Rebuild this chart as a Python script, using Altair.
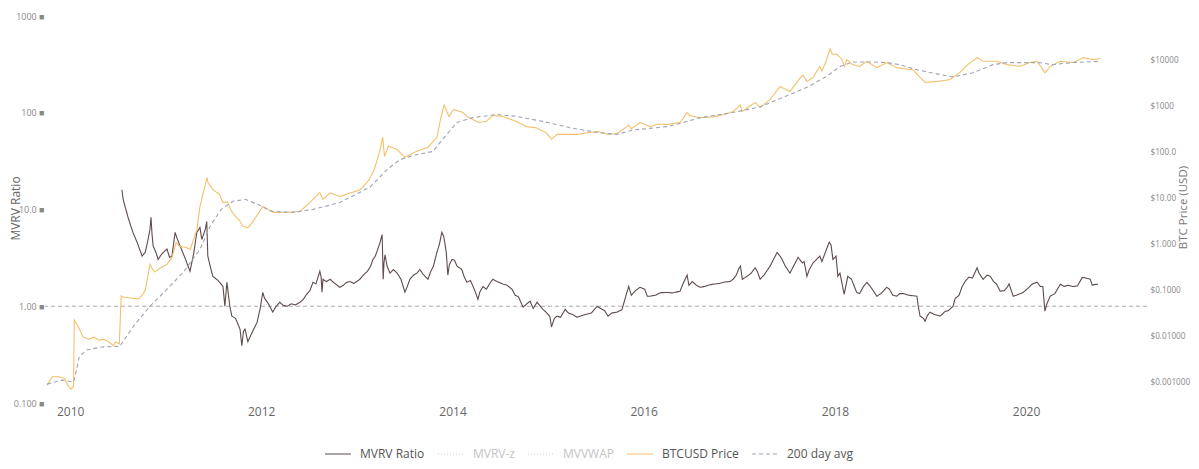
import altair as alt
import pandas as pd

# ---------------- data ----------------
mvrv_dates = [
    "2010-07-18", "2010-07-22", "2010-07-30", "2010-08-12", "2010-08-29", "2010-09-15",
    "2010-10-03", "2010-10-15", "2010-10-25", "2010-11-02", "2010-11-06", "2010-11-10",
    "2010-11-14", "2010-11-25", "2010-12-03", "2010-12-18", "2011-01-06", "2011-01-16",
    "2011-01-25", "2011-02-06", "2011-02-14", "2011-02-25", "2011-03-15", "2011-04-04",
    "2011-04-18", "2011-04-30", "2011-05-12", "2011-05-19", "2011-06-01", "2011-06-07",
    "2011-06-11", "2011-06-20", "2011-06-30", "2011-07-20", "2011-08-08", "2011-08-15",
    "2011-08-23", "2011-09-03", "2011-09-11", "2011-09-25", "2011-10-12", "2011-10-19",
    "2011-10-25", "2011-10-31", "2011-11-11", "2011-11-25", "2011-12-16", "2011-12-28",
    "2012-01-07", "2012-01-14", "2012-01-20", "2012-02-01", "2012-02-14", "2012-02-25",
    "2012-03-12", "2012-03-25", "2012-04-10", "2012-04-25", "2012-05-10", "2012-05-28",
    "2012-06-10", "2012-06-20", "2012-07-05", "2012-07-17", "2012-07-28", "2012-08-12",
    "2012-08-17", "2012-08-20", "2012-08-24", "2012-09-05", "2012-09-20", "2012-10-05",
    "2012-10-27", "2012-11-10", "2012-11-20", "2012-12-05", "2012-12-20", "2013-01-12",
    "2013-01-25", "2013-02-10", "2013-02-22", "2013-03-03", "2013-03-12", "2013-03-20",
    "2013-03-28", "2013-04-07", "2013-04-11", "2013-04-14", "2013-04-18", "2013-04-26",
    "2013-05-07", "2013-05-20", "2013-06-03", "2013-06-18", "2013-07-03", "2013-07-12",
    "2013-07-22", "2013-08-05", "2013-08-18", "2013-08-29", "2013-09-10", "2013-09-29",
    "2013-10-10", "2013-10-20", "2013-11-02", "2013-11-12", "2013-11-21", "2013-11-28",
    "2013-12-03", "2013-12-08", "2013-12-14", "2013-12-20", "2013-12-30", "2014-01-08",
    "2014-01-18", "2014-02-05", "2014-02-15", "2014-02-25", "2014-03-10", "2014-03-25",
    "2014-04-08", "2014-04-15", "2014-04-27", "2014-05-10", "2014-05-25", "2014-06-04",
    "2014-06-20", "2014-07-12", "2014-07-28", "2014-08-16", "2014-08-28", "2014-09-10",
    "2014-09-27", "2014-10-10", "2014-10-24", "2014-11-05", "2014-11-20", "2014-12-12",
    "2014-12-28", "2015-01-08", "2015-01-14", "2015-01-25", "2015-02-04", "2015-02-18",
    "2015-03-07", "2015-03-20", "2015-04-05", "2015-04-22", "2015-05-10", "2015-05-30",
    "2015-06-15", "2015-07-07", "2015-07-20", "2015-08-05", "2015-08-18", "2015-09-01",
    "2015-09-21", "2015-10-10", "2015-10-29", "2015-11-05", "2015-11-15", "2015-12-01",
    "2015-12-18", "2016-01-05", "2016-01-15", "2016-01-25", "2016-02-15", "2016-03-05",
    "2016-03-31", "2016-04-20", "2016-05-19", "2016-05-30", "2016-06-15", "2016-06-22",
    "2016-07-05", "2016-07-20", "2016-08-04", "2016-08-20", "2016-09-05", "2016-09-22",
    "2016-10-15", "2016-11-05", "2016-11-25", "2016-12-08", "2016-12-20", "2016-12-31",
    "2017-01-05", "2017-01-12", "2017-01-30", "2017-02-15", "2017-03-02", "2017-03-10",
    "2017-03-21", "2017-04-05", "2017-04-28", "2017-05-10", "2017-05-25", "2017-06-05",
    "2017-06-13", "2017-06-25", "2017-07-13", "2017-07-20", "2017-08-05", "2017-08-13",
    "2017-08-30", "2017-09-05", "2017-09-16", "2017-09-25", "2017-10-09", "2017-10-20",
    "2017-11-04", "2017-11-12", "2017-11-25", "2017-12-10", "2017-12-17", "2017-12-24",
    "2018-01-05", "2018-01-12", "2018-01-20", "2018-02-05", "2018-02-19", "2018-03-05",
    "2018-03-25", "2018-04-05", "2018-04-20", "2018-05-03", "2018-05-20", "2018-06-10",
    "2018-06-25", "2018-07-18", "2018-07-28", "2018-08-10", "2018-08-25", "2018-09-05",
    "2018-09-20", "2018-10-10", "2018-11-10", "2018-11-15", "2018-11-22", "2018-12-05",
    "2018-12-11", "2018-12-20", "2018-12-30", "2019-01-15", "2019-02-07", "2019-02-25",
    "2019-03-10", "2019-03-28", "2019-04-05", "2019-04-20", "2019-05-02", "2019-05-13",
    "2019-05-28", "2019-06-10", "2019-06-28", "2019-07-05", "2019-07-21", "2019-08-05",
    "2019-08-17", "2019-08-30", "2019-09-10", "2019-09-24", "2019-10-10", "2019-10-21",
    "2019-10-28", "2019-11-13", "2019-11-25", "2019-12-21", "2020-01-10", "2020-01-25",
    "2020-02-12", "2020-02-25", "2020-03-05", "2020-03-13", "2020-03-20", "2020-04-02",
    "2020-04-20", "2020-05-11", "2020-05-25", "2020-06-10", "2020-06-29", "2020-07-15",
    "2020-08-03", "2020-08-20", "2020-09-02", "2020-09-10", "2020-09-20", "2020-10-02",
]
mvrv_values = [
    16.0, 13.0, 10.7, 8.0, 5.8, 4.5,
    3.3, 3.6, 4.8, 6.2, 8.3, 5.5,
    4.2, 3.6, 3.05, 3.5, 3.9, 3.2,
    3.3, 5.8, 5.0, 4.2, 3.2, 2.3,
    3.5, 5.8, 6.5, 4.9, 6.2, 7.5,
    3.3, 2.6, 2.04, 1.85, 1.6, 1.0,
    1.77, 1.0, 0.79, 0.75, 0.58, 0.39,
    0.55, 0.58, 0.43, 0.52, 0.68, 0.95,
    1.39, 1.2, 1.15, 1.02, 0.87, 0.98,
    1.1, 1.02, 1.0, 1.06, 1.03, 1.1,
    1.18, 1.3, 1.45, 1.77, 1.7, 2.3,
    2.0, 1.4, 1.9, 1.8, 1.9, 1.75,
    1.57, 1.65, 1.75, 1.8, 1.72, 1.9,
    2.1, 2.3, 2.6, 3.05, 3.3, 3.8,
    4.4, 5.5, 1.9, 2.8, 3.4, 2.6,
    2.2, 2.4, 2.2, 1.9, 1.4, 1.6,
    1.9, 2.1, 2.2, 2.4, 2.15, 1.9,
    2.3, 2.6, 3.6, 4.4, 5.8, 5.3,
    4.4, 3.6, 2.1, 2.7, 3.05, 3.0,
    2.6, 2.4, 2.0, 1.77, 1.85, 1.5,
    1.18, 1.4, 1.6, 1.5, 1.75, 1.9,
    1.8, 1.7, 1.65, 1.5, 1.3, 1.25,
    0.98, 1.05, 1.13, 0.95, 1.1, 0.93,
    0.85, 0.78, 0.61, 0.75, 0.79, 0.77,
    0.93, 0.85, 0.82, 0.77, 0.80, 0.83,
    0.85, 1.0, 0.95, 0.9, 0.79, 0.85,
    0.87, 0.92, 1.39, 1.6, 1.3, 1.45,
    1.57, 1.5, 1.27, 1.27, 1.3, 1.38,
    1.39, 1.37, 1.43, 1.7, 2.1, 1.65,
    1.8, 1.65, 1.57, 1.6, 1.65, 1.69,
    1.72, 1.78, 1.8, 1.9, 2.1, 2.5,
    2.6, 1.9, 2.04, 2.2, 2.5, 2.3,
    1.9, 2.1, 2.6, 3.0, 3.6, 3.3,
    3.05, 2.6, 2.2, 2.4, 2.9, 3.2,
    2.8, 2.9, 2.04, 2.4, 2.8, 3.0,
    3.3, 2.9, 3.6, 4.6, 4.3, 3.05,
    3.3, 2.04, 2.2, 1.33, 2.04, 1.9,
    1.39, 1.35, 1.6, 1.77, 1.55, 1.27,
    1.35, 1.57, 1.5, 1.3, 1.27, 1.35,
    1.35, 1.3, 1.27, 1.0, 0.79, 0.75,
    0.70, 0.80, 0.87, 0.82, 0.79, 0.88,
    0.9, 1.0, 1.2, 1.3, 1.6, 1.8,
    2.0, 1.95, 2.5, 2.2, 1.9, 2.1,
    2.04, 1.8, 1.7, 1.43, 1.45, 1.57,
    1.7, 1.27, 1.3, 1.39, 1.55, 1.7,
    1.77, 1.6, 1.6, 0.89, 1.05, 1.27,
    1.35, 1.69, 1.6, 1.65, 1.6, 1.62,
    1.99, 1.95, 1.9, 1.65, 1.68, 1.69,
]

price_dates = [
    "2009-10-05", "2009-10-25", "2009-11-20", "2009-12-10", "2009-12-25", "2010-01-05",
    "2010-01-14", "2010-01-17", "2010-02-01", "2010-02-20", "2010-03-15", "2010-04-01",
    "2010-04-20", "2010-05-10", "2010-05-30", "2010-06-15", "2010-06-25", "2010-07-08",
    "2010-07-15", "2010-07-25", "2010-08-20", "2010-09-20", "2010-10-05", "2010-10-15",
    "2010-11-02", "2010-11-10", "2010-11-20", "2010-12-01", "2011-01-06", "2011-01-25",
    "2011-02-10", "2011-02-25", "2011-03-20", "2011-04-05", "2011-04-30", "2011-05-12",
    "2011-05-25", "2011-06-08", "2011-06-12", "2011-06-30", "2011-07-25", "2011-08-08",
    "2011-08-25", "2011-09-10", "2011-10-12", "2011-10-22", "2011-11-11", "2011-11-28",
    "2012-01-07", "2012-02-14", "2012-03-30", "2012-05-28", "2012-07-05", "2012-08-12",
    "2012-08-24", "2012-09-20", "2012-10-27", "2012-12-05", "2013-01-12", "2013-02-15",
    "2013-03-08", "2013-03-30", "2013-04-09", "2013-04-16", "2013-05-01", "2013-06-03",
    "2013-07-03", "2013-08-15", "2013-09-29", "2013-11-02", "2013-11-18", "2013-11-30",
    "2013-12-18", "2014-01-05", "2014-02-10", "2014-02-25", "2014-04-10", "2014-05-10",
    "2014-06-04", "2014-07-12", "2014-09-01", "2014-10-10", "2014-11-15", "2014-12-24",
    "2015-01-14", "2015-02-04", "2015-03-10", "2015-04-22", "2015-06-08", "2015-07-10",
    "2015-08-18", "2015-09-21", "2015-10-29", "2015-11-05", "2015-11-15", "2015-12-18",
    "2016-01-25", "2016-02-25", "2016-03-31", "2016-05-19", "2016-06-15", "2016-06-25",
    "2016-08-04", "2016-09-22", "2016-11-15", "2016-12-08", "2016-12-28", "2017-01-04",
    "2017-01-11", "2017-03-02", "2017-03-21", "2017-04-28", "2017-05-25", "2017-06-05",
    "2017-07-13", "2017-08-20", "2017-09-01", "2017-09-16", "2017-10-09", "2017-11-04",
    "2017-11-12", "2017-11-28", "2017-12-13", "2017-12-22", "2018-01-08", "2018-01-27",
    "2018-02-06", "2018-02-15", "2018-03-10", "2018-04-05", "2018-05-03", "2018-06-10",
    "2018-07-18", "2018-08-25", "2018-10-26", "2018-11-22", "2018-12-11", "2019-01-25",
    "2019-03-15", "2019-04-22", "2019-05-23", "2019-06-28", "2019-07-21", "2019-09-11",
    "2019-10-21", "2019-12-08", "2020-01-15", "2020-02-12", "2020-03-13", "2020-04-02",
    "2020-05-11", "2020-06-29", "2020-08-07", "2020-09-15", "2020-10-09",
]
price_values = [
    0.00085, 0.0013, 0.0013, 0.0012, 0.00081, 0.0007,
    0.0008, 0.0225, 0.016, 0.0096, 0.0085, 0.0095,
    0.0082, 0.0085, 0.0074, 0.0062, 0.0075, 0.0068,
    0.075, 0.07, 0.068, 0.065, 0.08, 0.1,
    0.37, 0.30, 0.25, 0.28, 0.37, 0.52,
    1.1, 0.9, 0.86, 0.78, 2.1, 6.7,
    13.6, 28.8, 22.0, 15.8, 12.3, 8.2,
    8.5, 5.2, 3.2, 2.5, 2.3, 3.0,
    6.7, 5.0, 5.0, 5.2, 8.2, 13.6,
    9.6, 13.2, 11.1, 13.2, 15.3, 25.0,
    43.0, 114.0, 218.0, 83.0, 140.0, 117.0,
    79.0, 106.0, 130.0, 215.0, 600.0, 1090.0,
    616.0, 870.0, 750.0, 616.0, 455.0, 480.0,
    650.0, 616.0, 480.0, 370.0, 350.0, 275.0,
    195.0, 250.0, 250.0, 250.0, 275.0, 290.0,
    250.0, 260.0, 370.0, 400.0, 330.0, 455.0,
    370.0, 420.0, 410.0, 455.0, 750.0, 640.0,
    580.0, 600.0, 710.0, 790.0, 1000.0, 1100.0,
    790.0, 1240.0, 970.0, 1440.0, 2300.0, 2770.0,
    2150.0, 4200.0, 4900.0, 3550.0, 4350.0, 7600.0,
    6000.0, 9800.0, 18600.0, 14000.0, 13900.0, 11000.0,
    7500.0, 10700.0, 8300.0, 7600.0, 9800.0, 7100.0,
    9200.0, 7100.0, 6400.0, 4350.0, 3400.0, 3550.0,
    3900.0, 5500.0, 8300.0, 11800.0, 9800.0, 9800.0,
    8300.0, 7600.0, 9200.0, 9800.0, 5500.0, 7600.0,
    9800.0, 9200.0, 11800.0, 10700.0, 11200.0,
]

avg_dates = [
    "2009-10-05", "2009-12-01", "2010-01-14", "2010-01-25", "2010-02-05", "2010-03-05",
    "2010-05-01", "2010-07-10", "2010-08-29", "2010-11-02", "2011-01-06", "2011-03-10",
    "2011-05-12", "2011-06-20", "2011-08-01", "2011-09-15", "2011-11-01", "2011-12-20",
    "2012-02-14", "2012-05-01", "2012-07-17", "2012-09-20", "2012-10-27", "2012-12-05",
    "2013-02-20", "2013-04-26", "2013-06-15", "2013-08-18", "2013-10-18", "2013-11-24",
    "2014-01-18", "2014-03-18", "2014-06-19", "2014-09-03", "2014-12-12", "2015-03-26",
    "2015-07-07", "2015-09-21", "2015-11-21", "2016-03-31", "2016-05-31", "2016-08-04",
    "2016-12-08", "2017-03-21", "2017-06-16", "2017-09-16", "2017-11-30", "2018-01-20",
    "2018-03-10", "2018-05-26", "2018-07-18", "2018-09-06", "2018-11-10", "2019-01-05",
    "2019-03-28", "2019-06-12", "2019-08-28", "2019-10-21", "2020-01-05", "2020-02-20",
    "2020-04-09", "2020-06-29", "2020-10-09",
]
avg_values = [
    0.0009, 0.0011, 0.0010, 0.0018, 0.0036, 0.0050,
    0.0058, 0.0060, 0.016, 0.045, 0.105, 0.25,
    0.78, 2.5, 5.8, 8.7, 9.6, 7.4,
    5.2, 5.0, 5.8, 7.2, 8.2, 10.6,
    17.8, 43.0, 71.0, 91.0, 106.0, 195.0,
    455.0, 580.0, 680.0, 616.0, 480.0, 350.0,
    275.0, 250.0, 312.0, 370.0, 455.0, 580.0,
    750.0, 1000.0, 1600.0, 2650.0, 4600.0, 7600.0,
    9460.0, 9460.0, 9200.0, 8300.0, 6400.0, 5500.0,
    4470.0, 5500.0, 8300.0, 9200.0, 9200.0, 9200.0,
    8300.0, 9200.0, 9800.0,
]

series_names = ["MVRV Ratio", "MVRV-z", "MVVWAP", "BTCUSD Price", "200 day avg"]
series_colors = ["#5f4b4b", "#cfcfcf", "#cfcfcf", "#f3c069", "#9ba3b5"]
series_dashes = [[1, 0], [1, 2], [1, 2], [1, 0], [4, 3]]

left_ticks = [0.1, 1, 10, 100, 1000]
right_ticks = [0.001, 0.01, 0.1, 1, 10, 100, 1000, 10000, 100000]
year_ticks = [2010, 2012, 2014, 2016, 2018, 2020]

# ---------------- tables ----------------
mvrv_df = pd.DataFrame({"date": mvrv_dates, "value": mvrv_values, "series": "MVRV Ratio"})
price_df = pd.DataFrame({"date": price_dates, "value": price_values, "series": "BTCUSD Price"})
avg_df = pd.DataFrame({"date": avg_dates, "value": avg_values, "series": "200 day avg"})
right_df = pd.concat([price_df, avg_df], ignore_index=True)
one_df = pd.DataFrame({"value": [1.0]})

FONT = "Open Sans"

x_enc = alt.X(
    "date:T",
    title=None,
    scale=alt.Scale(domain=[alt.DateTime(year=2009, month=9, date=27),
                            alt.DateTime(year=2021, month=4, date=7)]),
    axis=alt.Axis(values=[alt.DateTime(year=y, month=1, date=1) for y in year_ticks],
                  format="%Y", grid=False, domain=False, ticks=False,
                  labelFont=FONT, labelFontSize=12, labelColor="#666666",
                  labelPadding=3),
)

left_scale = alt.Scale(type="log", domain=[0.1, 1000])
left_axis = alt.Axis(
    orient="left", values=left_ticks, format=".3r",
    labelExpr="datum.label + ' \u25a0'",
    grid=False, domain=False, ticks=False,
    labelFont=FONT, labelFontSize=9, labelColor="#888888", labelPadding=1,
    title="MVRV Ratio", titleFont=FONT, titleFontSize=12, titleFontWeight="normal",
    titleColor="#666666", titleAngle=270, titleX=-30, titleY=192,
    titleAlign="center", titleBaseline="middle",
)
right_scale = alt.Scale(type="log", domain=[0.000349, 95300])
right_axis = alt.Axis(
    orient="right", values=right_ticks, format="$.4r",
    grid=False, domain=False, ticks=False,
    labelFont=FONT, labelFontSize=8.2, labelColor="#888888", labelPadding=3,
    title="BTC Price (USD)", titleFont=FONT, titleFontSize=11.5, titleFontWeight="normal",
    titleColor="#777777", titleAngle=270, titleX=36, titleY=191,
    titleAlign="center", titleBaseline="middle",
)

legend = alt.Legend(
    orient="none", legendX=279, legendY=424, direction="horizontal", title=None,
    symbolType="stroke", symbolSize=676, symbolStrokeWidth=1.2,
    labelFont=FONT, labelFontSize=12, labelOffset=8, columnPadding=10, padding=0,
    labelColor=alt.ExprRef(expr="datum.label == 'MVRV-z' || datum.label == 'MVVWAP' ? '#c4c4c4' : '#555555'"),
)
color_enc = alt.Color("series:N", scale=alt.Scale(domain=series_names, range=series_colors), legend=legend)
dash_enc = alt.StrokeDash("series:N", scale=alt.Scale(domain=series_names, range=series_dashes), legend=legend)

mvrv_line = alt.Chart(mvrv_df).mark_line(strokeWidth=1.1, interpolate="linear").encode(
    x=x_enc,
    y=alt.Y("value:Q", scale=left_scale, axis=left_axis),
    color=color_enc, strokeDash=dash_enc,
)
one_rule = alt.Chart(one_df).mark_rule(color="#aaaaaa", strokeDash=[4, 3], strokeWidth=1).encode(
    y=alt.Y("value:Q", scale=left_scale, axis=left_axis),
)
right_lines = alt.Chart(right_df).mark_line(strokeWidth=1.1).encode(
    x=x_enc,
    y=alt.Y("value:Q", scale=right_scale, axis=right_axis),
    color=color_enc, strokeDash=dash_enc,
)

left = alt.layer(one_rule, mvrv_line)
chart = (
    alt.layer(left, right_lines)
    .resolve_scale(y="independent")
    .properties(
        width=1102, height=387,
        padding={"left": 37, "top": 8, "right": 44, "bottom": 58},
        autosize=alt.AutoSizeParams(type="none"),
        background="white",
    )
    .configure_view(strokeWidth=0)
)

chart.save("out.html", embed_options={"renderer": "svg", "actions": False})
